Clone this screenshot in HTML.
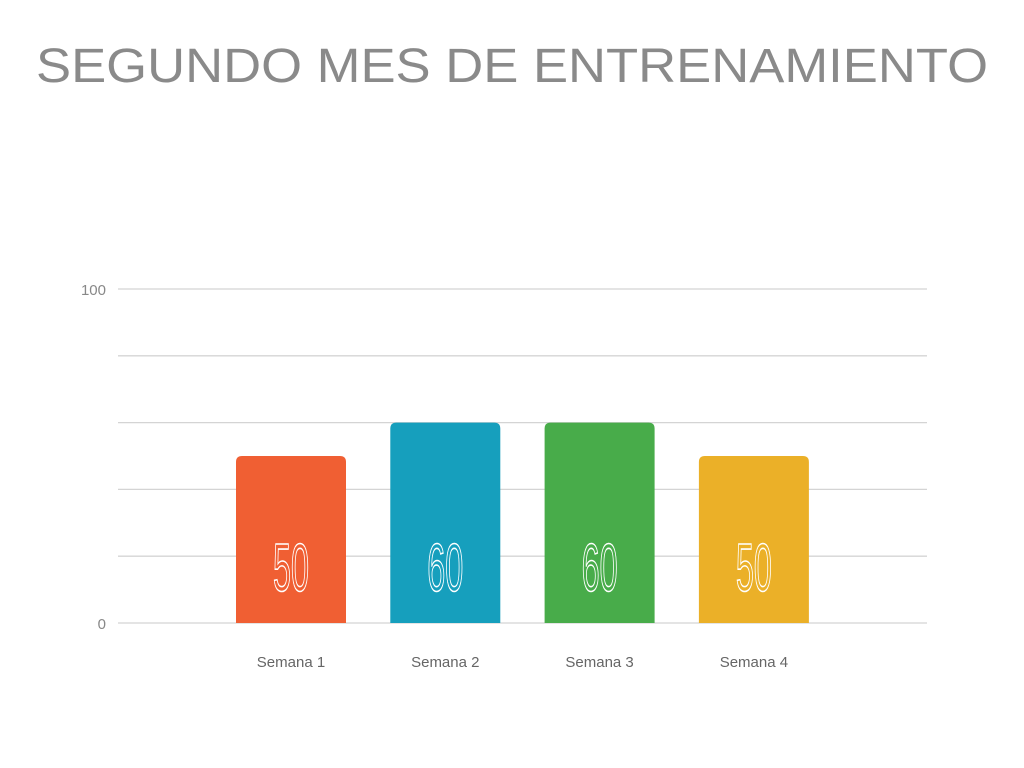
<!DOCTYPE html>
<html><head><meta charset="utf-8"><style>
html,body{margin:0;padding:0;background:#fff;width:1024px;height:768px;overflow:hidden}
svg{display:block}
</style></head><body>
<svg id="chart" width="1024" height="768" font-family="Liberation Sans, sans-serif">
<text x="512" y="82" text-anchor="middle" font-size="48" fill="#8a8a8a" textLength="952" lengthAdjust="spacingAndGlyphs">SEGUNDO MES DE ENTRENAMIENTO</text>
<g id="grid"></g><g id="bars"></g><g id="labels"></g>
</svg>
<script>
const categories = ["Semana 1","Semana 2","Semana 3","Semana 4"];
const values = [50,60,60,50];
const colors = ["#F05F33","#169FBD","#48AC4A","#EBB028"];
const yTicks = [0,20,40,60,80,100];
const yTickLabels = ["0","","","","","100"];
const NS="http://www.w3.org/2000/svg";
const y = v => 623 - v*3.34;
const xc = i => 291 + i*154.3;
const grid=document.getElementById('grid'), bars=document.getElementById('bars'), labels=document.getElementById('labels');
function mk(tag,attrs,parent){const e=document.createElementNS(NS,tag);for(const k in attrs)e.setAttribute(k,attrs[k]);parent.appendChild(e);return e;}
yTicks.forEach((t,i)=>{
  const l=mk('line',{x1:118,x2:927,y1:y(t),y2:y(t),stroke:'#d4d4d4','stroke-width':1.3},grid);
  
  
  if(yTickLabels[i]){
    const tx=mk('text',{x:106,y:y(t)+6,'text-anchor':'end','font-size':15,fill:'#888'},grid);
    tx.textContent=yTickLabels[i];
    
    
  }
});
values.forEach((v,i)=>{
  const x0=xc(i)-55, top=y(v), bot=y(0), r=6;
  const p=mk('path',{d:`M${x0},${bot} L${x0},${top+r} Q${x0},${top} ${x0+r},${top} L${x0+110-r},${top} Q${x0+110},${top} ${x0+110},${top+r} L${x0+110},${bot} Z`,fill:colors[i]},bars);
  
  
  const vt=mk('text',{x:xc(i),y:591,'text-anchor':'middle','font-size':68,fill:'none',stroke:'#fff','stroke-width':1.6,textLength:36,lengthAdjust:'spacingAndGlyphs'},bars);
  vt.textContent=String(v);
  
  
  const ct=mk('text',{x:xc(i),y:667,'text-anchor':'middle','font-size':15,fill:'#666'},labels);
  ct.textContent=categories[i];
  
  
});
</script>
</body></html>
